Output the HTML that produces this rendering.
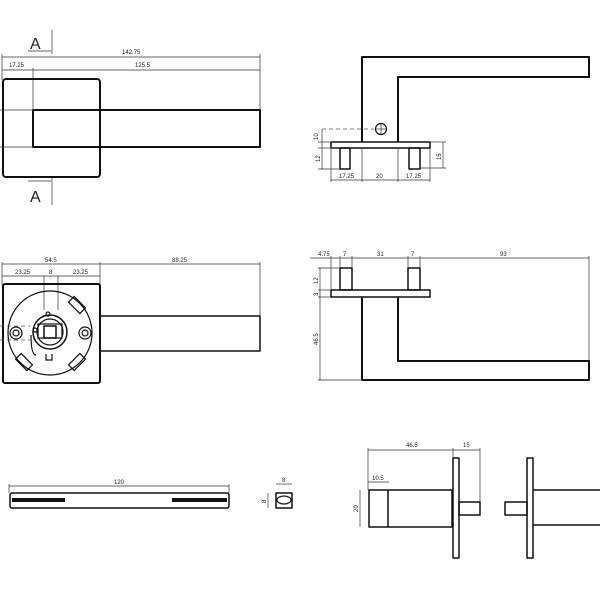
<!DOCTYPE html>
<html><head><meta charset="utf-8"><style>
html,body{margin:0;padding:0;background:#fff;}
svg{display:block}
text{font-family:"Liberation Sans",sans-serif;font-size:6px;fill:#222;}
.t{stroke:#111;stroke-width:2;fill:none;stroke-linejoin:round}
.m{stroke:#111;stroke-width:1.2;fill:none}
.d{stroke:#333;stroke-width:0.7;fill:none}
.ds{stroke:#555;stroke-width:0.7;fill:none;stroke-dasharray:4 3}
</style></head><body>
<svg width="600" height="600" viewBox="0 0 600 600" xmlns="http://www.w3.org/2000/svg">
<!-- TOP LEFT -->
<text x="30" y="49" style="font-size:16px">A</text>
<line class="d" x1="52" y1="30" x2="52" y2="54"/>
<line class="d" x1="28" y1="51" x2="51" y2="51"/>
<text x="30" y="202" style="font-size:16px">A</text>
<line class="d" x1="52" y1="178" x2="52" y2="205"/>
<line class="d" x1="28" y1="181" x2="51" y2="181"/>
<line class="d" x1="2" y1="57" x2="260" y2="57"/>
<line class="d" x1="2" y1="54" x2="2" y2="80"/><line class="d" x1="260" y1="54" x2="260" y2="112"/>
<text x="122" y="54">142.75</text>
<line class="d" x1="2" y1="70" x2="260" y2="70"/>
<line class="d" x1="33" y1="68" x2="33" y2="110"/>
<text x="9" y="67">17.25</text><text x="135" y="67">125.5</text>
<rect class="t" x="3" y="79" width="97" height="98" rx="3"/>
<rect x="33" y="110" width="227" height="37" fill="#fff" class="t"/>
<line class="d" x1="0" y1="110" x2="33" y2="110"/><line class="d" x1="0" y1="147" x2="33" y2="147"/>
<!-- TOP RIGHT -->
<path class="t" d="M362 142 V57 H589 V77 H398 V142"/>
<rect class="t" x="331" y="142" width="99" height="6" style="stroke-width:1.5"/>
<rect class="t" x="340" y="148" width="10" height="21" style="stroke-width:1.5"/>
<rect class="t" x="409" y="148" width="11" height="21" style="stroke-width:1.5"/>
<circle class="m" cx="381" cy="129" r="5.5"/>
<line class="d" x1="381" y1="124" x2="381" y2="134"/><line class="d" x1="376" y1="129" x2="386" y2="129"/>
<line class="ds" x1="322" y1="129" x2="374" y2="129"/>
<line class="d" x1="322" y1="129" x2="322" y2="169"/>
<line class="d" x1="318" y1="142" x2="331" y2="142"/><line class="d" x1="318" y1="148" x2="340" y2="148"/><line class="d" x1="318" y1="169" x2="340" y2="169"/>
<text transform="translate(318,140) rotate(-90)">10</text>
<text transform="translate(320,162) rotate(-90)">12</text>
<line class="d" x1="443" y1="142" x2="443" y2="168"/>
<line class="d" x1="430" y1="142" x2="446" y2="142"/><line class="d" x1="420" y1="168" x2="446" y2="168"/>
<text transform="translate(441,160) rotate(-90)">15</text>
<line class="d" x1="331" y1="180" x2="430" y2="180"/>
<line class="d" x1="331" y1="148" x2="331" y2="182"/><line class="d" x1="362" y1="148" x2="362" y2="182"/><line class="d" x1="398" y1="148" x2="398" y2="182"/><line class="d" x1="430" y1="148" x2="430" y2="182"/>
<text x="339" y="178">17.25</text><text x="376" y="178">20</text><text x="406" y="178">17.25</text>
<!-- MIDDLE LEFT -->
<line class="d" x1="2" y1="264" x2="260" y2="264"/>
<text x="45" y="262">54.5</text><text x="172" y="262">88.25</text>
<line class="d" x1="2" y1="276" x2="100" y2="276"/>
<line class="d" x1="2" y1="262" x2="2" y2="285"/><line class="d" x1="100" y1="262" x2="100" y2="285"/><line class="d" x1="260" y1="262" x2="260" y2="316"/>
<line class="d" x1="44" y1="276" x2="44" y2="310"/><line class="d" x1="58" y1="276" x2="58" y2="310"/>
<text x="15" y="274">23.25</text><text x="49" y="274">8</text><text x="73" y="274">23.25</text>
<rect class="t" x="3" y="284" width="97" height="99" rx="2"/>
<circle class="m" cx="50" cy="333" r="42"/>
<rect class="t" x="100" y="316" width="160" height="35" style="stroke-width:1.5"/>
<circle class="m" cx="16" cy="333" r="6"/><circle class="m" cx="16" cy="333" r="3"/>
<circle class="m" cx="85" cy="333" r="6"/><circle class="m" cx="85" cy="333" r="3"/>
<g class="m">
<rect x="-4" y="-8" width="8" height="16" transform="translate(77,305) rotate(-45)"/>
<rect x="-4" y="-8" width="8" height="16" transform="translate(77,362) rotate(45)"/>
<rect x="-4" y="-8" width="8" height="16" transform="translate(24,362) rotate(-45)"/>
</g>
<circle class="t" cx="50" cy="332" r="17" style="stroke-width:1.5"/>
<circle class="m" cx="50" cy="332" r="13"/>
<rect class="m" x="38" y="324" width="24" height="14"/>
<rect class="t" x="44" y="326" width="12" height="12" style="stroke-width:1.5"/>
<circle class="m" cx="35" cy="330" r="2"/><circle class="m" cx="48" cy="314" r="2"/>
<path class="m" d="M46 354 v6 h6 v-6 M31 335 q0 20 5 20"/>
<line class="ds" x1="0" y1="326" x2="30" y2="326"/><line class="ds" x1="0" y1="340" x2="30" y2="340"/>
<!-- MIDDLE RIGHT -->
<line class="d" x1="310" y1="258" x2="589" y2="258"/>
<g class="d"><line x1="331" y1="256" x2="331" y2="290"/><line x1="340" y1="256" x2="340" y2="268"/><line x1="352" y1="256" x2="352" y2="268"/><line x1="408" y1="256" x2="408" y2="268"/><line x1="420" y1="256" x2="420" y2="268"/><line x1="589" y1="256" x2="589" y2="361"/></g>
<text x="318" y="256">4.75</text><text x="343" y="256">7</text><text x="377" y="256">31</text><text x="411" y="256">7</text><text x="500" y="256">93</text>
<rect class="t" x="340" y="268" width="12" height="22" style="stroke-width:1.5"/>
<rect class="t" x="408" y="268" width="12" height="22" style="stroke-width:1.5"/>
<rect class="t" x="331" y="290" width="99" height="7" style="stroke-width:1.5"/>
<path class="t" d="M362 297 V380 H589 V361 H398 V297"/>
<line class="d" x1="320" y1="268" x2="320" y2="380"/>
<line class="d" x1="318" y1="268" x2="340" y2="268"/><line class="d" x1="318" y1="290" x2="331" y2="290"/><line class="d" x1="318" y1="297" x2="331" y2="297"/><line class="d" x1="318" y1="380" x2="362" y2="380"/>
<text transform="translate(318,284) rotate(-90)">12</text>
<text transform="translate(318,296) rotate(-90)">3</text>
<text transform="translate(318,345) rotate(-90)">46.5</text>
<!-- BOTTOM LEFT -->
<line class="d" x1="9" y1="486" x2="229" y2="486"/>
<line class="d" x1="9" y1="484" x2="9" y2="493"/><line class="d" x1="229" y1="484" x2="229" y2="493"/>
<text x="114" y="484">120</text>
<rect class="t" x="10" y="493" width="219" height="15" rx="2" style="stroke-width:1.5"/>
<rect x="12" y="498" width="53" height="4" fill="#111"/>
<rect x="172" y="498" width="55" height="4" fill="#111"/>
<rect class="t" x="276" y="493" width="16" height="15" style="stroke-width:1.5"/>
<ellipse class="m" cx="284" cy="500" rx="7" ry="4"/>
<line class="d" x1="276" y1="484" x2="292" y2="484"/><text x="282" y="482">8</text>
<line class="d" x1="268" y1="493" x2="268" y2="508"/><text transform="translate(266,503) rotate(-90)">8</text>
<!-- BOTTOM RIGHT -->
<line class="d" x1="368" y1="450" x2="480" y2="450"/>
<line class="d" x1="368" y1="448" x2="368" y2="490"/><line class="d" x1="453" y1="448" x2="453" y2="458"/><line class="d" x1="480" y1="448" x2="480" y2="502"/>
<text x="406" y="447">46.5</text><text x="463" y="447">15</text>
<line class="d" x1="368" y1="482" x2="389" y2="482"/><text x="372" y="480">10.5</text>
<line class="d" x1="360" y1="490" x2="360" y2="527"/><text transform="translate(358,512) rotate(-90)">20</text>
<rect class="t" x="369" y="490" width="83" height="37" style="stroke-width:1.5"/>
<line class="t" x1="388" y1="490" x2="388" y2="527" style="stroke-width:1.5"/>
<rect class="t" x="453" y="458" width="6" height="100" style="stroke-width:1.5"/>
<rect class="t" x="459" y="502" width="21" height="13" style="stroke-width:1.5"/>
<rect class="t" x="527" y="458" width="6" height="100" style="stroke-width:1.5"/>
<rect class="t" x="505" y="502" width="22" height="13" style="stroke-width:1.5"/>
<path class="t" d="M601 490 H533 M533 525 H601" style="stroke-width:1.5"/>
</svg>
</body></html>
